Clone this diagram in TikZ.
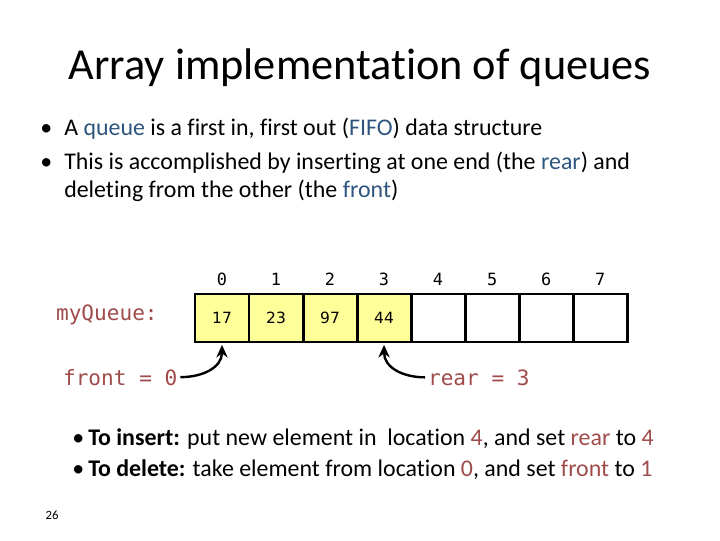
\documentclass[tikz,border=0pt]{standalone}
\usepackage{fontspec}
\setmainfont{Carlito}[Ligatures=NoCommon]
\setmonofont{DejaVu Sans Mono}
\newfontfamily\cellfont{DejaVu Sans}
\usetikzlibrary{positioning,arrows.meta}

\definecolor{keyblue}{RGB}{45,85,125}
\definecolor{varred}{RGB}{160,75,75}
\definecolor{cellyellow}{RGB}{255,255,153}

\tikzset{
  cell/.style={draw, line width=2.1pt, fill=white, minimum width=1.35cm,
    minimum height=1.2cm, inner sep=0pt, outer sep=0pt,
    font=\cellfont\fontsize{11}{13}\selectfont},
  filled/.style={cell, fill=cellyellow},
  idx/.style={font=\ttfamily\fontsize{12}{14}\selectfont, inner sep=1pt},
  body/.style={anchor=base west, inner sep=0pt,
    font=\fontsize{17}{20}\selectfont},
  code/.style={anchor=base west, inner sep=2pt, text=varred,
    font=\ttfamily\fontsize{15}{18}\selectfont},
  pointer/.style={-{Stealth[length=9pt,width=8pt]}, line width=1.7pt, shorten >=2pt}
}

\begin{document}
\begin{tikzpicture}[x=0.025cm, y=-0.025cm]
    \useasboundingbox (0,0) rectangle (720,540);

    % Title
    \node[font=\fontsize{31.5}{38}\selectfont] (title) at (360,68) {Array implementation of queues};

    % Intro bullets
    \node[body] (dot1) at (40,135) {\textbullet};
    \node[body] (intro1) at (64,135) {A \textcolor{keyblue}{queue} is a first in, first out (\textcolor{keyblue}{FIFO}) data structure};
    \node[body] (dot2) at (40,169) {\textbullet};
    \node[body] (intro2) at (64,169) {This is accomplished by inserting at one end (the \textcolor{keyblue}{rear}) and};
    \node[body] (intro3) at (64,197) {deleting from the other (the \textcolor{keyblue}{front})};

    % Array cells
    \node[filled] (c0) at (222,318) {17};
    \node[filled, right=0pt of c0] (c1) {23};
    \node[filled, right=0pt of c1] (c2) {97};
    \node[filled, right=0pt of c2] (c3) {44};
    \foreach \i [evaluate=\i as \j using int(\i-1)] in {4,...,7}
        \node[cell, right=0pt of c\j] (c\i) {};

    % Index labels
    \foreach \i in {0,...,7}
        \node[idx, above=5pt of c\i] (idx\i) {\i};

    % Variable names
    \node[code] (lbl) at (53,320) {myQueue:};
    \node[code] (front) at (60,385) {front = 0};
    \node[code] (rear) at (425,385) {rear = 3};

    % Pointers
    \draw[pointer] (front.east) .. controls ([xshift=16pt]front.east) and ([yshift=-18pt]c0.south) .. (c0.south);
    \draw[pointer] (rear.west) .. controls ([xshift=-16pt]rear.west) and ([yshift=-18pt]c3.south) .. (c3.south);

    % Operations
    \node[body] (dot3) at (72,445) {\textbullet};
    \node[body] (ins) at (88,445) {\textbf{To insert:} put new element in\ \ location \textcolor{varred}{4}, and set \textcolor{varred}{rear} to \textcolor{varred}{4}};
    \node[body] (dot4) at (72,476) {\textbullet};
    \node[body] (del) at (88,476) {\textbf{To delete:} take element from location \textcolor{varred}{0}, and set \textcolor{varred}{front} to \textcolor{varred}{1}};

    % Page number
    \node[font=\fontsize{9}{11}\selectfont] (pagenum) at (52,515) {26};

\end{tikzpicture}
\end{document}
